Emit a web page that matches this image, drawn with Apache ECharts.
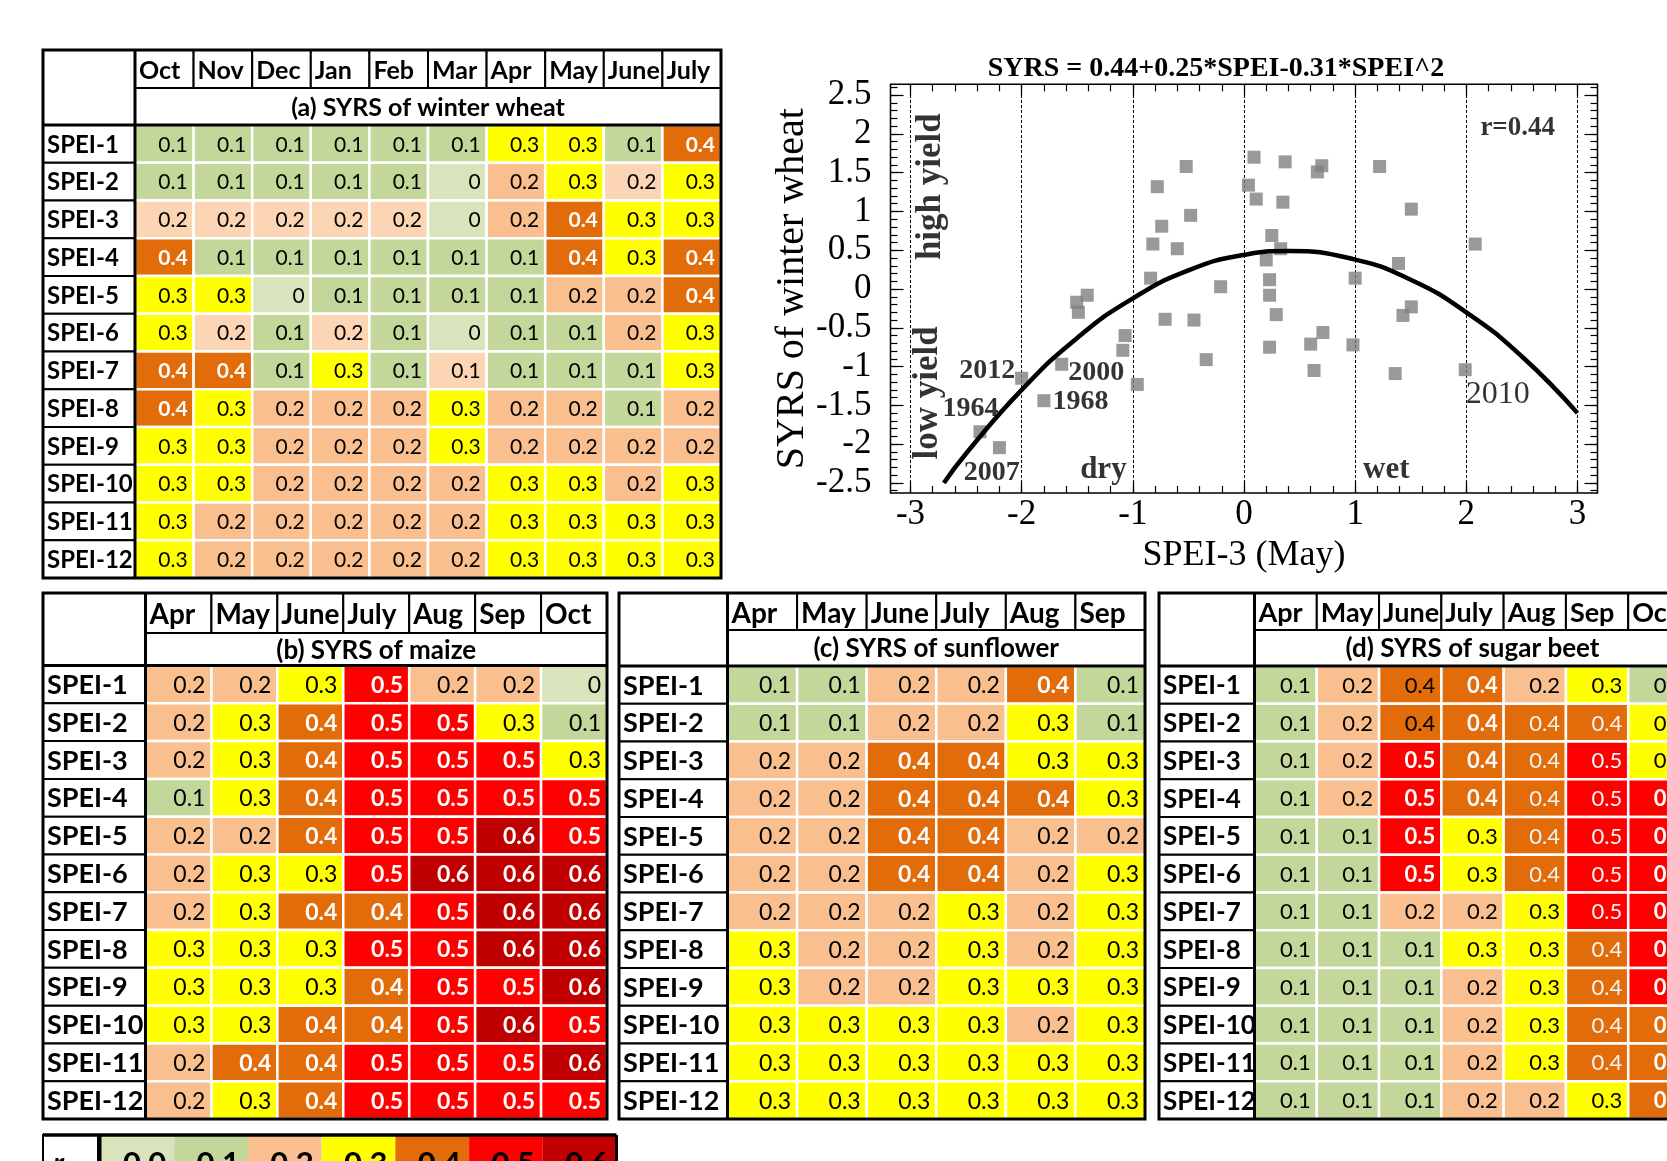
<!DOCTYPE html>
<html><head><meta charset="utf-8">
<script src="https://cdn.jsdelivr.net/npm/echarts@6/dist/echarts.min.js"></script>
<style>html,body{margin:0;padding:0;background:#fff}#c{width:1667px;height:1161px}</style>
</head><body><div id="c"></div>
<script>
// ---------------- DATA ----------------
const speiRows = ['SPEI-1','SPEI-2','SPEI-3','SPEI-4','SPEI-5','SPEI-6','SPEI-7','SPEI-8','SPEI-9','SPEI-10','SPEI-11','SPEI-12'];
const monthsWheat = ['Oct','Nov','Dec','Jan','Feb','Mar','Apr','May','June','July'];
const monthsMaize = ['Apr','May','June','July','Aug','Sep','Oct'];
const monthsSunflower = ['Apr','May','June','July','Aug','Sep'];
const monthsSugarBeet = ['Apr','May','June','July','Aug','Sep','Oct'];

// values with an extra digit where the cell shade shows a value between the printed classes
const syrsWheat = [
 [0.1,0.1,0.1,0.1,0.1,0.1,0.3,0.3,0.1,0.4],
 [0.1,0.1,0.1,0.1,0.1,0,0.2,0.3,0.16,0.3],
 [0.16,0.16,0.16,0.16,0.16,0,0.2,0.4,0.3,0.3],
 [0.4,0.1,0.1,0.1,0.1,0.1,0.1,0.4,0.3,0.4],
 [0.3,0.3,0,0.1,0.1,0.1,0.1,0.2,0.2,0.4],
 [0.3,0.16,0.1,0.16,0.1,0,0.1,0.1,0.2,0.3],
 [0.4,0.4,0.1,0.3,0.1,0.14,0.1,0.1,0.1,0.3],
 [0.4,0.3,0.2,0.2,0.2,0.3,0.2,0.2,0.1,0.2],
 [0.3,0.3,0.2,0.2,0.2,0.3,0.2,0.2,0.2,0.2],
 [0.3,0.3,0.2,0.2,0.2,0.2,0.3,0.3,0.2,0.3],
 [0.3,0.2,0.2,0.2,0.2,0.2,0.3,0.3,0.3,0.3],
 [0.3,0.2,0.2,0.2,0.2,0.2,0.3,0.3,0.3,0.3]
];
const syrsMaize = [
 [0.2,0.2,0.3,0.5,0.2,0.2,0],
 [0.2,0.3,0.4,0.5,0.5,0.3,0.1],
 [0.2,0.3,0.4,0.5,0.5,0.5,0.3],
 [0.1,0.3,0.4,0.5,0.5,0.5,0.5],
 [0.2,0.2,0.4,0.5,0.5,0.6,0.5],
 [0.2,0.3,0.3,0.5,0.6,0.6,0.6],
 [0.2,0.3,0.4,0.4,0.5,0.6,0.6],
 [0.3,0.3,0.3,0.5,0.5,0.6,0.6],
 [0.3,0.3,0.3,0.4,0.5,0.5,0.6],
 [0.3,0.3,0.4,0.4,0.5,0.6,0.5],
 [0.2,0.4,0.4,0.5,0.5,0.5,0.6],
 [0.2,0.3,0.4,0.5,0.5,0.5,0.5]
];
const syrsSunflower = [
 [0.1,0.1,0.2,0.2,0.4,0.1],
 [0.1,0.1,0.2,0.2,0.3,0.1],
 [0.2,0.2,0.4,0.4,0.3,0.3],
 [0.2,0.2,0.4,0.4,0.4,0.3],
 [0.2,0.2,0.4,0.4,0.2,0.2],
 [0.2,0.2,0.4,0.4,0.2,0.3],
 [0.2,0.2,0.2,0.3,0.2,0.3],
 [0.3,0.2,0.2,0.3,0.2,0.3],
 [0.3,0.2,0.2,0.3,0.3,0.3],
 [0.3,0.3,0.3,0.3,0.2,0.3],
 [0.3,0.3,0.3,0.3,0.3,0.3],
 [0.3,0.3,0.3,0.3,0.3,0.3]
];
const syrsSugarBeet = [
 [0.1,0.2,0.4,0.4,0.2,0.3,0.1],
 [0.1,0.2,0.4,0.4,0.4,0.4,0.3],
 [0.1,0.2,0.5,0.4,0.4,0.5,0.3],
 [0.1,0.2,0.5,0.4,0.4,0.5,0.5],
 [0.1,0.1,0.5,0.3,0.4,0.5,0.5],
 [0.1,0.1,0.5,0.3,0.4,0.5,0.5],
 [0.1,0.1,0.2,0.2,0.3,0.5,0.5],
 [0.1,0.1,0.1,0.3,0.3,0.4,0.5],
 [0.1,0.1,0.1,0.2,0.3,0.4,0.5],
 [0.1,0.1,0.1,0.2,0.3,0.4,0.4],
 [0.1,0.1,0.1,0.2,0.3,0.4,0.4],
 [0.1,0.1,0.1,0.2,0.2,0.3,0.4]
];
const legendValues = [0,0.1,0.2,0.3,0.4,0.5,0.6];
const legendLabels = ['0.0','0.1','0.2','0.3','0.4','0.5','0.6'];

// scatter: SPEI-3 (May) vs SYRS of winter wheat
const speiMay = [-2.375,-2.20,-2.0,-1.80,-1.64,-1.505,-1.49,-1.41,-1.09,-1.07,-0.96,-0.84,-0.82,-0.78,-0.74,-0.71,-0.60,-0.52,-0.48,-0.45,-0.34,-0.21,0.04,0.09,0.11,0.20,0.23,0.23,0.23,0.25,0.29,0.33,0.35,0.37,0.60,0.63,0.66,0.70,0.71,0.98,1.0,1.22,1.36,1.39,1.43,1.505,1.505,1.99,2.08];
const syrsMay = [-1.84,-2.045,-1.15,-1.44,-0.97,-0.17,-0.30,-0.08,-0.79,-0.60,-1.23,0.14,0.58,1.32,0.81,-0.39,0.52,1.58,0.95,-0.40,-0.91,0.03,1.34,1.70,1.16,0.375,0.12,-0.08,-0.75,0.69,-0.33,0.52,1.12,1.64,-0.71,-1.05,1.51,1.59,-0.56,-0.72,0.14,1.58,-1.09,0.33,-0.34,1.03,-0.23,-1.04,0.58];
// fitted curve
const curveX = [-2.7,-2.5,-2.0,-1.5,-1.0,-0.5,0,0.4,1.0,1.5,2.0,2.5,3.0];
const curveY = [-2.50,-2.12,-1.30,-0.63,-0.12,0.24,0.44,0.49,0.38,0.12,-0.30,-0.87,-1.60];
const xTickValues = [-3,-2,-1,0,1,2,3];
const yTickValues = [-2.5,-2,-1.5,-1,-0.5,0,0.5,1,1.5,2,2.5];
const annTexts = ['high yield','low yield','2012','1964','2007','2000','1968','dry','wet','2010','r=0.44'];
const annX = [-2.82,-2.845,-2.31,-2.46,-2.27,-1.33,-1.47,-1.265,1.28,2.282,2.462];
const annY = [1.32,-1.34,-1.06,-1.54,-2.37,-1.08,-1.46,-2.33,-2.33,-1.36,2.07];
const chartTitle = 'SYRS = 0.44+0.25*SPEI-0.31*SPEI^2';

// ---------------- STYLE / LAYOUT ----------------
const SANS = 'Lato';
const SERIF = 'Liberation Serif';
function cellColor(v){
  if (v < 0.05) return '#d8e4bc';
  if (v < 0.135) return '#c4d79b';
  if (v < 0.195) return '#fcd5b4';
  if (v < 0.25) return '#fabf8f';
  if (v < 0.35) return '#ffff00';
  if (v < 0.45) return '#e26b0a';
  if (v < 0.55) return '#ff0000';
  return '#c00000';
}
function fmt(v){ const r = Math.round(v*10)/10; return r === 0 ? '0' : r.toFixed(1); }
function defaultText(c, v){ return v >= 0.35 ? {c:'#fff', w:'bold'} : {c:'#000', w:'normal'}; }
function beetText(c, v){
  if (v < 0.35) return {c:'#000', w:'normal'};
  if (c === 2 && v < 0.45) return {c:'#000', w:'normal'};
  if (c === 4 || c === 5) return {c:'#f4f4f4', w:'normal'};
  return {c:'#fff', w:'bold'};
}
const tables = [
  {months:monthsWheat, values:syrsWheat, title:'(a) SYRS of winter wheat', box:{left:135,top:125,width:586,height:453}, labelW:92, headerH:38, titleH:37, labelFont:24, headFont:25, valueFont:21, titleFont:25, text:defaultText},
  {months:monthsMaize, values:syrsMaize, title:'(b) SYRS of maize', box:{left:145.5,top:665.5,width:461.5,height:453.5}, labelW:102.5, headerH:40, titleH:32.5, labelFont:27, headFont:28, valueFont:23, titleFont:26, text:defaultText},
  {months:monthsSunflower, values:syrsSunflower, title:'(c) SYRS of sunflower', box:{left:727.5,top:666,width:417.5,height:453}, labelW:108.5, headerH:37, titleH:36, labelFont:27, headFont:28, valueFont:23, titleFont:26, text:defaultText},
  {months:monthsSugarBeet, values:syrsSugarBeet, title:'(d) SYRS of sugar beet', box:{left:1254.5,top:666,width:436,height:453}, labelW:95.5, headerH:37, titleH:36, labelFont:26, headFont:27, valueFont:22, titleFont:26, text:beetText}
];

const grids = [], xAxes = [], yAxes = [], series = [];

tables.forEach((t, i) => {
  grids.push({left:t.box.left, top:t.box.top, width:t.box.width, height:t.box.height, show:false, outerBoundsMode:'none', containLabel:false});
  xAxes.push({gridIndex:i, type:'category', data:t.months, show:false});
  yAxes.push({gridIndex:i, type:'category', data:speiRows, inverse:true, show:false});
  const cells = [];
  t.values.forEach((row, r) => row.forEach((v, c) => cells.push([c, r, v])));
  series.push({type:'custom', xAxisIndex:i, yAxisIndex:i, data:cells, z:2, silent:true,
    encode:{x:0, y:1},
    renderItem:(p, api) => {
      const c = api.value(0), r = api.value(1), v = api.value(2);
      const ctr = api.coord([c, r]); const sz = api.size([1, 1]);
      const x = ctr[0] - sz[0]/2, y = ctr[1] - sz[1]/2;
      const st = t.text(c, v);
      return {type:'group', children:[
        {type:'rect', shape:{x:x, y:y, width:sz[0], height:sz[1]}, style:{fill:cellColor(v), stroke:'#fff', lineWidth:2.5}},
        {type:'text', style:{text:fmt(v), x:x + sz[0] - 6, y:ctr[1] + 1, align:'right', verticalAlign:'middle',
          fontSize:t.valueFont, fontFamily:SANS, fontWeight:st.w, fill:st.c}}
      ]};
    }});
  // row labels
  series.push({type:'custom', xAxisIndex:i, yAxisIndex:i, data:speiRows.map((s, r) => [0, r]), z:3, silent:true,
    encode:{x:0, y:1},
    renderItem:(p, api) => {
      const r = api.value(1); const ctr = api.coord([0, r]); const sz = api.size([1, 1]);
      const cs = p.coordSys; const x = cs.x - t.labelW; const y = ctr[1] - sz[1]/2;
      return {type:'group', children:[
        {type:'rect', shape:{x:x, y:y, width:t.labelW, height:sz[1]}, style:{fill:'#fff', stroke:'#000', lineWidth:2}},
        {type:'text', style:{text:speiRows[p.dataIndex], x:x + 4, y:ctr[1] + 1, align:'left', verticalAlign:'middle',
          fontSize:t.labelFont, fontFamily:SANS, fontWeight:'bold', fill:'#000'}}
      ]};
    }});
  // month header cells
  series.push({type:'custom', xAxisIndex:i, yAxisIndex:i, data:t.months.map((m, j) => [j, 0]), z:3, silent:true,
    encode:{x:0, y:1},
    renderItem:(p, api) => {
      const j = api.value(0); const ctr = api.coord([j, 0]); const sz = api.size([1, 1]);
      const cs = p.coordSys; const y0 = cs.y - t.titleH - t.headerH; const x = ctr[0] - sz[0]/2;
      return {type:'group', children:[
        {type:'rect', shape:{x:x, y:y0, width:sz[0], height:t.headerH}, style:{fill:'#fff', stroke:'#000', lineWidth:2}},
        {type:'text', style:{text:t.months[p.dataIndex], x:x + 4, y:y0 + t.headerH/2 + 2, align:'left', verticalAlign:'middle',
          fontSize:t.headFont, fontFamily:SANS, fontWeight:'bold', fill:'#000'}}
      ]};
    }});
  // frame, title cell, corner
  series.push({type:'custom', xAxisIndex:i, yAxisIndex:i, data:[[0, 0]], z:4, silent:true,
    encode:{x:0, y:1},
    renderItem:(p, api) => {
      const cs = p.coordSys; const x0 = cs.x - t.labelW; const yTop = cs.y - t.titleH - t.headerH;
      const right = cs.x + cs.width, bottom = cs.y + cs.height;
      return {type:'group', children:[
        {type:'rect', shape:{x:x0, y:yTop, width:t.labelW, height:t.titleH + t.headerH}, style:{fill:'#fff', stroke:'#000', lineWidth:2}},
        {type:'rect', shape:{x:cs.x, y:cs.y - t.titleH, width:cs.width, height:t.titleH}, style:{fill:'#fff', stroke:'#000', lineWidth:2}},
        {type:'text', style:{text:t.title, x:cs.x + cs.width/2, y:cs.y - t.titleH/2 + 1, align:'center', verticalAlign:'middle',
          fontSize:t.titleFont, fontFamily:SANS, fontWeight:'bold', fill:'#000'}},
        {type:'rect', shape:{x:x0, y:yTop, width:right - x0, height:bottom - yTop}, style:{fill:'none', stroke:'#000', lineWidth:3}},
        {type:'line', shape:{x1:cs.x, y1:yTop, x2:cs.x, y2:bottom}, style:{stroke:'#000', lineWidth:3}},
        {type:'line', shape:{x1:x0, y1:cs.y, x2:right, y2:cs.y}, style:{stroke:'#000', lineWidth:3}}
      ]};
    }});
});

// ---- legend (index 4)
grids.push({left:100.5, top:1135, width:516, height:60, show:false, outerBoundsMode:'none', containLabel:false});
xAxes.push({gridIndex:4, type:'category', data:legendLabels, show:false});
yAxes.push({gridIndex:4, type:'category', data:['r'], show:false});
series.push({type:'custom', xAxisIndex:4, yAxisIndex:4, data:legendValues.map((v, i) => [i, 0, v]), z:2, silent:true,
  encode:{x:0, y:1},
  renderItem:(p, api) => {
    const i = api.value(0), v = api.value(2); const ctr = api.coord([i, 0]); const sz = api.size([1, 1]);
    const x = ctr[0] - sz[0]/2, y = ctr[1] - sz[1]/2;
    return {type:'group', children:[
      {type:'rect', shape:{x:x, y:y, width:sz[0], height:sz[1]}, style:{fill:cellColor(v)}},
      {type:'text', style:{text:legendLabels[p.dataIndex], x:x + sz[0] - 8, y:y + 29, align:'right', verticalAlign:'middle',
        fontSize:31, fontFamily:SANS, fontWeight:'bold', fill:'#000'}}
    ]};
  }});
series.push({type:'custom', xAxisIndex:4, yAxisIndex:4, data:[[0, 0]], z:4, silent:true,
  encode:{x:0, y:1},
  renderItem:(p, api) => {
    const cs = p.coordSys; const x0 = 43;
    return {type:'group', children:[
      {type:'rect', shape:{x:x0, y:cs.y, width:cs.x - x0, height:cs.height}, style:{fill:'#fff', stroke:'#000', lineWidth:2}},
      {type:'text', style:{text:'r', x:x0 + 10, y:cs.y + 29, align:'left', verticalAlign:'middle', fontSize:31, fontFamily:SANS, fontWeight:'bold', fontStyle:'italic', fill:'#000'}},
      {type:'line', shape:{x1:x0, y1:cs.y, x2:cs.x + cs.width, y2:cs.y}, style:{stroke:'#000', lineWidth:3.5}},
      {type:'line', shape:{x1:cs.x - 1.5, y1:cs.y, x2:cs.x - 1.5, y2:cs.y + cs.height}, style:{stroke:'#000', lineWidth:4}},
      {type:'line', shape:{x1:cs.x + cs.width, y1:cs.y, x2:cs.x + cs.width, y2:cs.y + cs.height}, style:{stroke:'#000', lineWidth:3}}
    ]};
  }});

// ---- scatter (grid 5)
const xMinor = []; for (let k = -15; k <= 15; k++) xMinor.push(+(k*0.2).toFixed(1));
const yMinor = []; for (let k = -26; k <= 26; k++) yMinor.push(+(k*0.1).toFixed(1));
grids.push({left:890.5, top:84.3, width:707, height:408.7, show:true, borderColor:'#000', borderWidth:1.5, backgroundColor:'transparent', outerBoundsMode:'none', containLabel:false});
const XMIN = -3.18, XMAX = 3.18, YMIN = -2.63, YMAX = 2.64;
function vAxisX(pos, major, withLabel){
  return {gridIndex:5, type:'value', min:XMIN, max:XMAX, position:pos,
    axisLine:{show:false, onZero:false}, splitLine:{show:false},
    axisTick:{show:true, inside:true, length:major ? 12 : 7, customValues: major ? xTickValues : xMinor, lineStyle:{color:'#000', width:1.2}},
    axisLabel:{show:withLabel, customValues:xTickValues, fontFamily:SERIF, fontSize:35, color:'#000', margin:4},
    name: withLabel ? 'SPEI-3 (May)' : '', nameLocation:'middle', nameGap:45,
    nameTextStyle:{fontFamily:SERIF, fontSize:36, color:'#000'}};
}
function vAxisY(pos, major, withLabel){
  return {gridIndex:5, type:'value', min:YMIN, max:YMAX, position:pos,
    axisLine:{show:false, onZero:false}, splitLine:{show:false},
    axisTick:{show:true, inside:true, length:major ? 13 : 7, customValues: major ? yTickValues : yMinor, lineStyle:{color:'#000', width:1.2}},
    axisLabel:{show:withLabel, customValues:yTickValues, fontFamily:SERIF, fontSize:35, color:'#000', margin:19},
    name: withLabel ? 'SYRS of winter wheat' : '', nameLocation:'middle', nameRotate:90, nameGap:78,
    nameTextStyle:{fontFamily:SERIF, fontSize:40, color:'#000'}};
}
xAxes.push(vAxisX('bottom', true, true), vAxisX('bottom', false, false), vAxisX('top', true, false), vAxisX('top', false, false));
yAxes.push(vAxisY('left', true, true), vAxisY('left', false, false), vAxisY('right', true, false), vAxisY('right', false, false));

series.push({type:'scatter', xAxisIndex:5, yAxisIndex:5, symbol:'rect', symbolSize:13, z:5, silent:true,
  itemStyle:{color:'#808080'},
  data: speiMay.map((x, i) => [x, syrsMay[i]]),
  markLine:{symbol:['none','none'], silent:true, label:{show:false}, animation:false,
    lineStyle:{color:'#000', type:[3,2], width:1},
    data: xTickValues.map(v => ({xAxis:v}))}
});
series.push({type:'line', xAxisIndex:5, yAxisIndex:5, smooth:true, symbol:'none', z:6, silent:true,
  lineStyle:{color:'#000', width:4.5},
  data: curveX.map((x, i) => [x, curveY[i]])});
const annStyle = {
  'high yield':{fontSize:35, fontWeight:'bold', rotate:90},
  'low yield':{fontSize:35, fontWeight:'bold', rotate:90},
  '2010':{fontSize:32, fontWeight:'normal'},
  'r=0.44':{fontSize:27, fontWeight:'bold'},
  'dry':{fontSize:31, fontWeight:'bold'},
  'wet':{fontSize:31, fontWeight:'bold'}
};
series.push({type:'scatter', xAxisIndex:5, yAxisIndex:5, symbolSize:1, z:7, silent:true,
  itemStyle:{color:'transparent'},
  data: annTexts.map((t, i) => {
    const s = annStyle[t] || {fontSize:28, fontWeight:'bold'};
    return {value:[annX[i], annY[i]], label:{show:true, position:'inside', formatter:t, fontFamily:SERIF,
      fontSize:s.fontSize, fontWeight:s.fontWeight, rotate:s.rotate || 0, color:'#000'}};
  })});

const chart = echarts.init(document.getElementById('c'), null, {renderer:'canvas'});
chart.setOption({
  animation:false,
  backgroundColor:'#fff',
  title:{text:chartTitle, left:1211, top:50, textAlign:'center',
    textStyle:{fontFamily:SERIF, fontSize:28, fontWeight:'bold', color:'#000'}},
  grid:grids, xAxis:xAxes, yAxis:yAxes, series:series
});
</script></body></html>
